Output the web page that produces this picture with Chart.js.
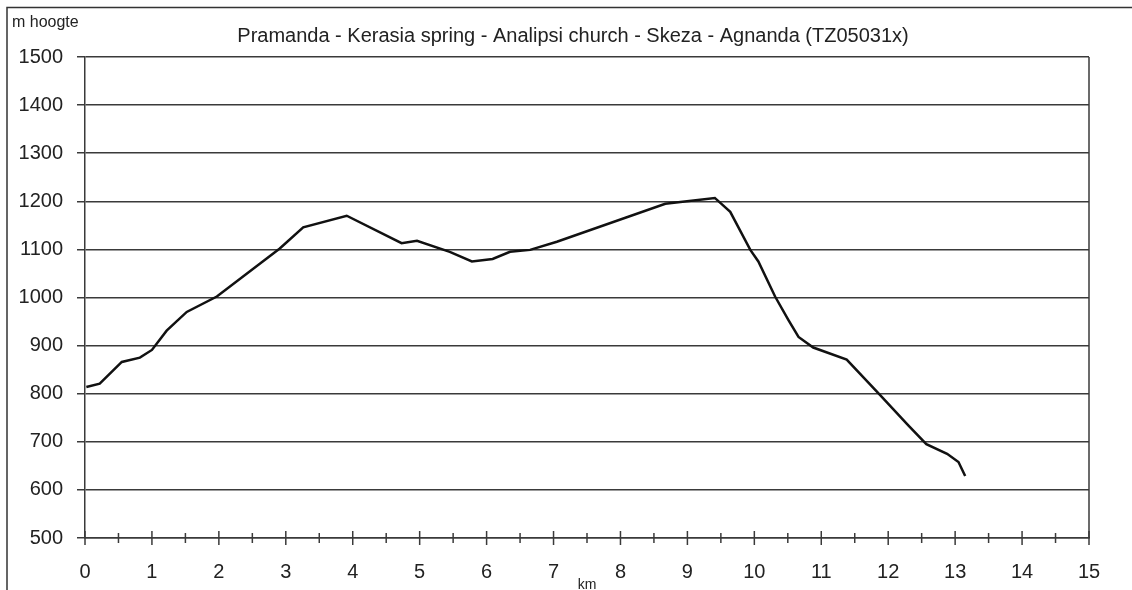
<!DOCTYPE html>
<html>
<head>
<meta charset="utf-8">
<script src="https://cdn.jsdelivr.net/npm/chart.js@4.4.1/dist/chart.umd.min.js"></script>
<style>
    html, body { margin: 0; padding: 0; background: #fff; }
    #wrap { position: relative; width: 1132px; height: 590px; }
</style>
</head>
<body>
<div id="wrap"><canvas id="profileChart" width="1132" height="590"></canvas></div>
<script>
// afstand (km) en hoogte (m)
const kmValues = [0.02, 0.22, 0.55, 0.82, 1.0, 1.22, 1.52, 1.97, 2.91, 3.26, 3.91, 4.73, 4.96, 5.45, 5.78, 6.09, 6.35, 6.65, 7.05, 8.67, 9.41, 9.64, 9.94, 10.06, 10.31, 10.51, 10.66, 10.88, 11.38, 11.88, 12.30, 12.57, 12.88, 13.05, 13.15];
const heights  = [814, 821, 866, 875, 891, 931, 970, 1002, 1102, 1146, 1170, 1113, 1118, 1095, 1075, 1080, 1095, 1099, 1116, 1195, 1207, 1178, 1099, 1075, 1002, 953, 918, 896, 871, 797, 734, 695, 675, 658, 629];

const yTicks = [500, 600, 700, 800, 900, 1000, 1100, 1200, 1300, 1400, 1500];
const xTicks = [0, 1, 2, 3, 4, 5, 6, 7, 8, 9, 10, 11, 12, 13, 14, 15];

const chartTitle = "Pramanda - Kerasia spring - Analipsi church - Skeza - Agnanda (TZ05031x)";
const yLabel = "m hoogte";
const xLabel = "km";

const FONT = "'Liberation Sans', Arial, sans-serif";
const GRID = "#3a3a3a";

/* ---- kader, titels en km-streepjes ---- */
const decorations = {
    id: "decorations",
    afterDraw(chart) {
        const { ctx, chartArea: a, scales } = chart;
        ctx.save();

        // buitenkader (boven + links)
        ctx.strokeStyle = "#333";
        ctx.lineWidth = 1.5;
        ctx.beginPath();
        ctx.moveTo(7, 590);
        ctx.lineTo(7, 7.5);
        ctx.lineTo(1132, 7.5);
        ctx.stroke();

        // rechterrand van het plotvlak
        ctx.strokeStyle = GRID;
        ctx.beginPath();
        ctx.moveTo(a.right, a.top);
        ctx.lineTo(a.right, a.bottom);
        ctx.stroke();

        // streepjes op de x-as (door de as heen)
        const x = scales.x;
        x.ticks.forEach(t => {
            const px = x.getPixelForValue(t.value);
            const h = Number.isInteger(t.value) ? 7 : 5;
            ctx.beginPath();
            ctx.moveTo(px, a.bottom - h);
            ctx.lineTo(px, a.bottom + h);
            ctx.stroke();
        });

        ctx.fillStyle = "#222";
        ctx.textBaseline = "alphabetic";

        ctx.font = "20px " + FONT;
        ctx.textAlign = "center";
        ctx.fillText(chartTitle, 573, 42);

        ctx.font = "16px " + FONT;
        ctx.textAlign = "left";
        ctx.fillText(yLabel, 12, 27);

        ctx.font = "14px " + FONT;
        ctx.textAlign = "center";
        ctx.fillText(xLabel, 587, 589);

        ctx.restore();
    }
};

const ctx = document.getElementById("profileChart").getContext("2d");

new Chart(ctx, {
    type: "line",
    data: {
        datasets: [{
            data: kmValues.map((k, i) => ({ x: k, y: heights[i] })),
            borderColor: "#111",
            borderWidth: 2.5,
            pointRadius: 0,
            tension: 0,
            fill: false
        }]
    },
    options: {
        responsive: false,
        animation: false,
        events: [],
        layout: { padding: { top: 57, right: 43, left: 0, bottom: 0 } },
        plugins: {
            legend: { display: false },
            tooltip: { enabled: false }
        },
        scales: {
            x: {
                type: "linear",
                min: 0,
                max: 15,
                afterFit: s => { s.height = 52; },
                afterBuildTicks: s => {
                    const t = [];
                    for (let v = 0; v <= 15; v += 0.5) t.push({ value: v });
                    s.ticks = t;
                },
                grid: { display: false },
                border: { display: true, color: GRID, width: 1.5 },
                ticks: {
                    padding: 14,
                    autoSkip: false,
                    maxRotation: 0,
                    color: "#222",
                    font: { family: FONT, size: 20 },
                    callback: v => xTicks.includes(v) ? String(v) : ""
                }
            },
            y: {
                min: 500,
                max: 1500,
                afterFit: s => { s.width = 85; },
                afterBuildTicks: s => { s.ticks = yTicks.map(v => ({ value: v })); },
                grid: {
                    color: GRID,
                    lineWidth: 1.5,
                    drawTicks: true,
                    tickLength: 8,
                    tickColor: GRID
                },
                border: { display: true, color: GRID, width: 1.5 },
                ticks: {
                    padding: 14,
                    color: "#222",
                    font: { family: FONT, size: 20 },
                    callback: v => String(v)
                }
            }
        }
    },
    plugins: [decorations]
});
</script>
</body>
</html>
